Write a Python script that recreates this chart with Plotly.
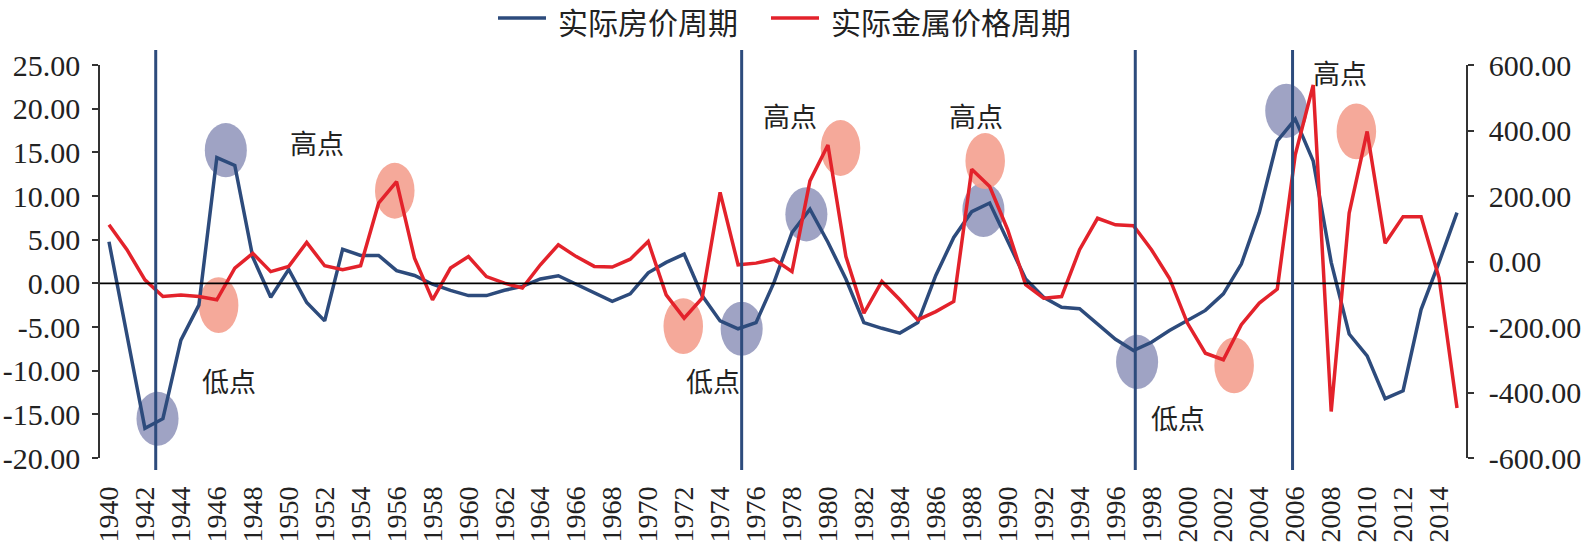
import plotly.graph_objects as go

years = list(range(1940, 2016))

house_cycle = [
    4.76, -6.0, -16.6, -15.5, -6.5, -2.5, 14.4, 13.5, 3.0, -1.6,
    1.6, -2.2, -4.3, 3.9, 3.2, 3.2, 1.45, 0.9, -0.1, -0.8,
    -1.4, -1.4, -0.8, -0.35, 0.5, 0.87, -0.1, -1.0, -2.06, -1.2,
    1.2, 2.4, 3.35, -1.4, -4.3, -5.2, -4.5, 0.1, 5.8, 8.5,
    4.7, 0.5, -4.5, -5.15, -5.7, -4.5, 0.9, 5.26, 8.2, 9.2,
    4.9, 0.5, -1.6, -2.75, -2.9, -4.66, -6.4, -7.7, -6.75, -5.4,
    -4.2, -3.1, -1.2, 2.2, 8.1, 16.3, 18.8, 14.0, 2.4, -5.8,
    -8.3, -13.2, -12.3, -3.0, 2.4, 8.1,
]

metal_cycle = [
    112, 36, -56, -107, -102, -107, -117, -20, 25, -31,
    -15, 58, -13, -25, -13, 178, 244, 10, -117, -20,
    15, -46, -66, -81, -10, 51, 15, -15, -17, 7,
    61, -102, -173, -112, 211, -10, -5, 7, -31, 246,
    356, 15, -158, -61, -117, -178, -153, -122, 282, 229,
    97, -71, -112, -107, 36, 132, 112, 109, 36, -51,
    -188, -280, -300, -193, -127, -84, 326, 539, -458, 148,
    397, 56, 137, 137, -50, -447,
]

series_names = ["实际房价周期", "实际金属价格周期"]

tick_years = list(range(1940, 2015, 2))
tick_labels = [str(y) for y in tick_years]

left_ticks = [25, 20, 15, 10, 5, 0, -5, -10, -15, -20]
right_ticks = [600, 400, 200, 0, -200, -400, -600]

# cycle turning points (vertical lines)
turn_years = [1942.6, 1975.2, 1997.1, 2005.85]

# highlight ellipses: centre year, centre value (left axis units)
blue_spot_x = [1942.7, 1946.5, 1975.2, 1978.8, 1988.65, 1997.2, 2005.5]
blue_spot_y = [-15.5, 15.25, -5.2, 7.9, 8.4, -9.0, 19.75]
red_spot_x = [1946.1, 1955.9, 1971.95, 1980.7, 1988.75, 2002.6, 2009.4]
red_spot_y = [-2.5, 10.6, -4.9, 15.5, 14.0, -9.4, 17.4]

label_text = ["高点", "低点", "低点", "高点", "高点", "低点", "高点"]
label_x = [1951.6, 1946.7, 1973.6, 1977.9, 1988.25, 1999.45, 2008.5]
label_y = [16.1, -11.1, -11.1, 19.2, 19.2, -15.4, 24.1]

BLUE = "#2D4B7C"
RED = "#E3222B"
X_MIN, X_MAX = 1939.5, 2015.5

W, H = 1586, 550
ML, MR, MT, MB = 100, 120, 65, 92
PW, PH = W - ML - MR, H - MT - MB


def px_x(p):
    return (p - ML) / PW


def px_y(p):
    return 1 + (MT - p) / PH


fig = go.Figure()
fig.add_trace(go.Scatter(x=years, y=house_cycle, mode="lines", name=series_names[0],
                         line=dict(color=BLUE, width=3.5), yaxis="y"))
fig.add_trace(go.Scatter(x=years, y=metal_cycle, mode="lines", name=series_names[1],
                         line=dict(color=RED, width=3.5), yaxis="y2"))

shapes = []
for cx, cy in zip(blue_spot_x, blue_spot_y):
    shapes.append(dict(type="circle", xref="x", yref="y", x0=cx - 1.17, x1=cx + 1.17,
                       y0=cy - 3.1, y1=cy + 3.1, fillcolor="#8E93BA", opacity=0.85,
                       line=dict(width=0), layer="below"))
for cx, cy in zip(red_spot_x, red_spot_y):
    shapes.append(dict(type="circle", xref="x", yref="y", x0=cx - 1.1, x1=cx + 1.1,
                       y0=cy - 3.2, y1=cy + 3.2, fillcolor="#F4A08F", opacity=0.9,
                       line=dict(width=0), layer="below"))
# zero line (category axis crossing)
shapes.append(dict(type="line", xref="paper", yref="y", x0=0, x1=1, y0=0, y1=0,
                   line=dict(color="black", width=1.6)))
for ty in turn_years:
    px = (ty - X_MIN) / (X_MAX - X_MIN)
    shapes.append(dict(type="line", xref="paper", yref="paper", x0=px, x1=px,
                       y0=px_y(470), y1=px_y(50), line=dict(color=BLUE, width=3)))

annotations = []
for t, ax_, ay_ in zip(label_text, label_x, label_y):
    annotations.append(dict(x=ax_, y=ay_, xref="x", yref="y", text=t, showarrow=False,
                            font=dict(family="Noto Sans CJK SC", size=27, color="#222222")))

# hand-built legend (line sample + text) above the plot
LEG_LINE_Y = 18
LEG_TEXT_Y = 21
legend_items = [(series_names[0], BLUE, 498), (series_names[1], RED, 771)]
for name, col, x_start in legend_items:
    shapes.append(dict(type="line", xref="paper", yref="paper",
                       x0=px_x(x_start), x1=px_x(x_start + 48),
                       y0=px_y(LEG_LINE_Y), y1=px_y(LEG_LINE_Y),
                       line=dict(color=col, width=3.5)))
    annotations.append(dict(x=px_x(x_start + 59), y=px_y(LEG_TEXT_Y), xref="paper",
                            yref="paper", xanchor="left", yanchor="middle", text=name,
                            showarrow=False, borderpad=0,
                            font=dict(family="Noto Sans CJK SC", size=30, color="#222222")))

y_tick_font = dict(family="Liberation Serif, Times New Roman, serif", size=30, color="#222222")
x_tick_font = dict(family="Liberation Serif, Times New Roman, serif", size=28, color="#222222")

fig.update_layout(
    width=W, height=H,
    margin=dict(l=ML, r=MR, t=MT, b=MB, pad=0, autoexpand=False),
    paper_bgcolor="white", plot_bgcolor="white",
    showlegend=False,
    xaxis=dict(range=[X_MIN, X_MAX], tickmode="array", tickvals=tick_years,
               ticktext=tick_labels, tickangle=-90, showgrid=False, zeroline=False,
               showline=False, ticks="", tickfont=x_tick_font, ticklabelstandoff=22,
               automargin=False),
    yaxis=dict(range=[-20, 25], tickmode="array", tickvals=left_ticks,
               ticktext=[f"{v:.2f}" for v in left_ticks], showgrid=False, zeroline=False,
               showline=True, linecolor="#333333", linewidth=1.5, ticks="outside",
               ticklen=6, tickcolor="#333333", tickwidth=1.5, tickfont=y_tick_font,
               ticklabelstandoff=6, automargin=False),
    yaxis2=dict(range=[-600, 600], overlaying="y", side="right", tickmode="array",
                tickvals=right_ticks, ticktext=[f"{v:.2f}" for v in right_ticks],
                showgrid=False, zeroline=False, showline=True, linecolor="#333333",
                linewidth=1.5, ticks="outside", ticklen=6, tickcolor="#333333",
                tickwidth=1.5, tickfont=y_tick_font, ticklabelstandoff=9,
                automargin=False),
    shapes=shapes,
    annotations=annotations,
)

fig.write_html("out.html")
